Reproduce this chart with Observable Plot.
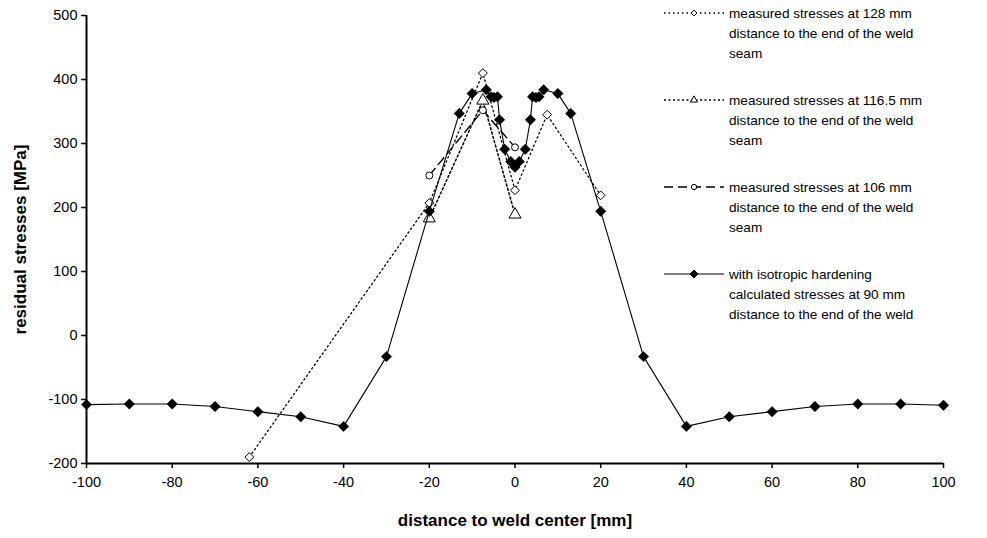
<!DOCTYPE html>
<html>
<head>
<meta charset="utf-8">
<script src="https://cdn.jsdelivr.net/npm/d3@7"></script>
<script src="https://cdn.jsdelivr.net/npm/@observablehq/plot@0.6"></script>
<style>
  html, body { margin: 0; padding: 0; background: #fff; }
  #wrap { position: relative; width: 987px; height: 538px; font-family: Arial, "Liberation Sans", sans-serif; }
  #legend { position: absolute; left: 0; top: 0; }
</style>
</head>
<body>
<div id="wrap"><div id="chart"></div><svg id="legend" width="987" height="330"></svg></div>
<script>
// ---- data ----
const calcX = [-100,-90,-80,-70,-60,-50,-40,-30,-20,-13,-10,-6.7,-5.6,-4.9,-4.1,-3.6,-2.4,-1.0,0,1.0,2.4,3.6,4.1,4.9,5.6,6.7,10,13,20,30,40,50,60,70,80,90,100];
const calcY = [-108,-107,-107,-111,-119,-127,-142,-33,194,347,378,384,373,372,373,337,291,272,263,272,291,337,373,372,373,384,378,347,194,-33,-142,-127,-119,-111,-107,-107,-109];
const m128X = [-62,-20,-7.5,0,7.5,20];
const m128Y = [-190,207,410,227,345,219];
const m116X = [-20,-7.5,0];
const m116Y = [183,367,189];
const m106X = [-20,-7.5,0];
const m106Y = [250,352,294];
const xTicks = [-100,-80,-60,-40,-20,0,20,40,60,80,100];
const yTicks = [-200,-100,0,100,200,300,400,500];
const legendLabels = [
  ["measured stresses at 128 mm", "distance to the end of the weld", "seam"],
  ["measured stresses at 116.5 mm", "distance to the end of the weld", "seam"],
  ["measured stresses at 106 mm", "distance to the end of the weld", "seam"],
  ["with isotropic hardening", "calculated stresses at 90 mm", "distance to the end of the weld"]
];
const xLabel = "distance to weld center [mm]";
const yLabel = "residual stresses [MPa]";

const toRows = (xs, ys) => xs.map((x, i) => ({x, y: ys[i]}));
const calc = toRows(calcX, calcY);
const s128 = toRows(m128X, m128Y);
const s116 = toRows(m116X, m116Y);
const s106 = toRows(m106X, m106Y);

const styles = [
  {dash: "1.5,3", width: 1.3, symbol: "diamond2", fill: "white", r: 4},
  {dash: "2,2.5", width: 1.5, symbol: "triangle", fill: "white", r: 4.5},
  {dash: "9,5", width: 1.4, symbol: "circle", fill: "white", r: 3.5},
  {dash: null, width: 1, symbol: "diamond2", fill: "black", r: 4.5}
];

const chart = Plot.plot({
  width: 987,
  height: 538,
  marginLeft: 86,
  marginRight: 44,
  marginTop: 15,
  marginBottom: 75,
  style: {fontFamily: "Arial, 'Liberation Sans', sans-serif", fontSize: "14.5px", color: "black", background: "white"},
  x: {domain: [-100, 100]},
  y: {domain: [-200, 500]},
  marks: [
    Plot.line(s128, {x: "x", y: "y", stroke: "black", strokeWidth: styles[0].width, strokeDasharray: styles[0].dash}),
    Plot.line(s116, {x: "x", y: "y", stroke: "black", strokeWidth: styles[1].width, strokeDasharray: styles[1].dash}),
    Plot.line(s106, {x: "x", y: "y", stroke: "black", strokeWidth: styles[2].width, strokeDasharray: styles[2].dash}),
    Plot.dot(s128, {x: "x", y: "y", symbol: styles[0].symbol, r: styles[0].r, fill: "white", stroke: "black", strokeWidth: 1}),
    Plot.dot(s116, {x: "x", y: "y", symbol: styles[1].symbol, r: styles[1].r, fill: "white", stroke: "black", strokeWidth: 1}),
    Plot.dot(s106, {x: "x", y: "y", symbol: styles[2].symbol, r: styles[2].r, fill: "white", stroke: "black", strokeWidth: 1}),
    Plot.line(calc, {x: "x", y: "y", stroke: "black", strokeWidth: 1.1}),
    Plot.dot(calc, {x: "x", y: "y", symbol: "diamond2", r: 4.7, fill: "black", stroke: "black", strokeWidth: 0.5}),
    Plot.axisX({ticks: xTicks, tickSize: 5, tickPadding: 8, tickFormat: d => String(d), label: null, fontSize: 14.5, strokeWidth: 1.5}),
    Plot.axisY({ticks: yTicks, tickSize: 5, tickPadding: 4, tickFormat: d => String(d), label: null, fontSize: 14.5, strokeWidth: 1.5}),
    Plot.ruleX([-100], {stroke: "black", strokeWidth: 2}),
    Plot.ruleY([-200], {stroke: "black", strokeWidth: 2}),
    Plot.text([xLabel], {frameAnchor: "bottom", dy: 57, lineAnchor: "middle", textAnchor: "middle", fontWeight: "bold", fontSize: 17}),
    Plot.text([yLabel], {frameAnchor: "left", dx: -66, rotate: -90, lineAnchor: "middle", textAnchor: "middle", fontWeight: "bold", fontSize: 17})
  ]
});
document.getElementById("chart").appendChild(chart);

// ---- legend overlay ----
const lg = d3.select("#legend");
const entryTop = [13, 100, 187, 274];
legendLabels.forEach((lines, i) => {
  const g = lg.append("g").attr("transform", `translate(0,${entryTop[i]})`);
  const st = styles[i];
  g.append("line").attr("x1", 664).attr("x2", 724).attr("y1", 0).attr("y2", 0)
    .attr("stroke", "black").attr("stroke-width", st.width)
    .attr("stroke-dasharray", st.dash);
  const symMap = {diamond2: d3.symbolDiamond2, triangle: d3.symbolTriangle, circle: d3.symbolCircle};
  const size = i === 3 ? 40 : 22;
  g.append("path").attr("transform", "translate(694,0)")
    .attr("d", d3.symbol(symMap[st.symbol], size)())
    .attr("fill", st.fill).attr("stroke", "black").attr("stroke-width", 1);
  lines.forEach((t, j) => {
    g.append("text").attr("x", 729).attr("y", j * 20).attr("dy", "0.35em")
      .attr("font-size", 13.6).attr("font-family", "Arial, 'Liberation Sans', sans-serif")
      .text(t);
  });
});
</script>
</body>
</html>
